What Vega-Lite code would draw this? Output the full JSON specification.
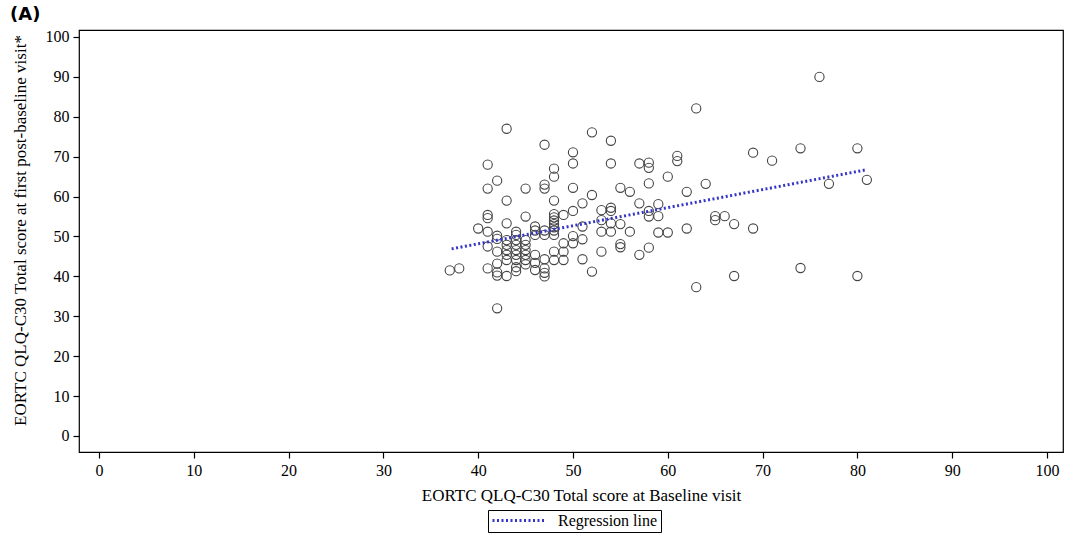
{
  "$schema": "https://vega.github.io/schema/vega-lite/v6.json",
  "width": 984,
  "height": 422,
  "autosize": {"type": "none"},
  "padding": {"left": 79, "top": 30, "right": 2, "bottom": 82},
  "background": "white",
  "title": {"text": "(A)", "anchor": "start", "frame": "group", "dx": -69, "offset": 5, "font": "DejaVu Sans", "fontSize": 18, "fontWeight": "bold", "color": "black"},
  "config": {
    "view": {"stroke": "black", "strokeWidth": 1.2},
    "axis": {"grid": false, "domain": false, "tickColor": "black", "tickSize": 6, "tickWidth": 1.2, "labelFont": "Liberation Serif", "labelFontSize": 16, "labelColor": "black", "titleFont": "Liberation Serif", "titleFontSize": 17, "titleFontWeight": "normal", "titleColor": "black"}
  },
  "datasets": {
    "points": [
      {"baseline": 37, "post": 41.5}, {"baseline": 38, "post": 42}, {"baseline": 40, "post": 52},
      {"baseline": 41, "post": 68}, {"baseline": 41, "post": 62}, {"baseline": 41, "post": 55.4}, {"baseline": 41, "post": 54.6}, {"baseline": 41, "post": 51.2}, {"baseline": 41, "post": 47.5}, {"baseline": 41, "post": 42},
      {"baseline": 42, "post": 64}, {"baseline": 42, "post": 50.2}, {"baseline": 42, "post": 49.4}, {"baseline": 42, "post": 46.2}, {"baseline": 42, "post": 43.2}, {"baseline": 42, "post": 41}, {"baseline": 42, "post": 40.2}, {"baseline": 42, "post": 32},
      {"baseline": 43, "post": 77}, {"baseline": 43, "post": 59}, {"baseline": 43, "post": 53.3}, {"baseline": 43, "post": 49.1}, {"baseline": 43, "post": 47.9}, {"baseline": 43, "post": 46.6}, {"baseline": 43, "post": 45.4}, {"baseline": 43, "post": 44.1}, {"baseline": 43, "post": 40.1},
      {"baseline": 44, "post": 51.2}, {"baseline": 44, "post": 50.4}, {"baseline": 44, "post": 49.1}, {"baseline": 44, "post": 47.9}, {"baseline": 44, "post": 46.6}, {"baseline": 44, "post": 45.4}, {"baseline": 44, "post": 44.1}, {"baseline": 44, "post": 42.3}, {"baseline": 44, "post": 41.3},
      {"baseline": 45, "post": 62}, {"baseline": 45, "post": 55}, {"baseline": 45, "post": 49.1}, {"baseline": 45, "post": 47.9}, {"baseline": 45, "post": 46.6}, {"baseline": 45, "post": 45.4}, {"baseline": 45, "post": 44.1}, {"baseline": 45, "post": 43},
      {"baseline": 46, "post": 52.5}, {"baseline": 46, "post": 51.5}, {"baseline": 46, "post": 50.4}, {"baseline": 46, "post": 45.4}, {"baseline": 46, "post": 43.4}, {"baseline": 46, "post": 41.6},
      {"baseline": 47, "post": 73}, {"baseline": 47, "post": 63}, {"baseline": 47, "post": 62}, {"baseline": 47, "post": 51.5}, {"baseline": 47, "post": 50.4}, {"baseline": 47, "post": 44.3}, {"baseline": 47, "post": 42}, {"baseline": 47, "post": 40.9}, {"baseline": 47, "post": 40},
      {"baseline": 48, "post": 67}, {"baseline": 48, "post": 65}, {"baseline": 48, "post": 59}, {"baseline": 48, "post": 55.6}, {"baseline": 48, "post": 54.8}, {"baseline": 48, "post": 54}, {"baseline": 48, "post": 53.1}, {"baseline": 48, "post": 52.3}, {"baseline": 48, "post": 51.5}, {"baseline": 48, "post": 50.4}, {"baseline": 48, "post": 46.2}, {"baseline": 48, "post": 44.1},
      {"baseline": 49, "post": 55.4}, {"baseline": 49, "post": 48.3}, {"baseline": 49, "post": 46.2}, {"baseline": 49, "post": 44.1},
      {"baseline": 50, "post": 71.1}, {"baseline": 50, "post": 68.3}, {"baseline": 50, "post": 62.2}, {"baseline": 50, "post": 56.4}, {"baseline": 50, "post": 50.1}, {"baseline": 50, "post": 48.3},
      {"baseline": 51, "post": 58.3}, {"baseline": 51, "post": 52.5}, {"baseline": 51, "post": 49.3}, {"baseline": 51, "post": 44.3},
      {"baseline": 52, "post": 76.1}, {"baseline": 52, "post": 60.4}, {"baseline": 52, "post": 41.2},
      {"baseline": 53, "post": 56.6}, {"baseline": 53, "post": 54.1}, {"baseline": 53, "post": 51.2}, {"baseline": 53, "post": 46.2},
      {"baseline": 54, "post": 74}, {"baseline": 54, "post": 68.3}, {"baseline": 54, "post": 57.2}, {"baseline": 54, "post": 56.4}, {"baseline": 54, "post": 53.3}, {"baseline": 54, "post": 51.2},
      {"baseline": 55, "post": 62.2}, {"baseline": 55, "post": 53.1}, {"baseline": 55, "post": 48.1}, {"baseline": 55, "post": 47.3},
      {"baseline": 56, "post": 61.2}, {"baseline": 56, "post": 51.2},
      {"baseline": 57, "post": 68.3}, {"baseline": 57, "post": 58.3}, {"baseline": 57, "post": 45.4},
      {"baseline": 58, "post": 68.5}, {"baseline": 58, "post": 67.2}, {"baseline": 58, "post": 63.3}, {"baseline": 58, "post": 56.4}, {"baseline": 58, "post": 55}, {"baseline": 58, "post": 47.2},
      {"baseline": 59, "post": 58.1}, {"baseline": 59, "post": 55.1}, {"baseline": 59, "post": 51},
      {"baseline": 60, "post": 65}, {"baseline": 60, "post": 51},
      {"baseline": 61, "post": 70.2}, {"baseline": 61, "post": 68.9},
      {"baseline": 62, "post": 61.2}, {"baseline": 62, "post": 52},
      {"baseline": 63, "post": 82.1}, {"baseline": 63, "post": 37.3},
      {"baseline": 64, "post": 63.2},
      {"baseline": 65, "post": 55.1}, {"baseline": 65, "post": 54.1},
      {"baseline": 66, "post": 55.1},
      {"baseline": 67, "post": 53.1}, {"baseline": 67, "post": 40.1},
      {"baseline": 69, "post": 71}, {"baseline": 69, "post": 52},
      {"baseline": 71, "post": 69},
      {"baseline": 74, "post": 72.1}, {"baseline": 74, "post": 42.1},
      {"baseline": 76, "post": 90},
      {"baseline": 77, "post": 63.2},
      {"baseline": 80, "post": 72.1}, {"baseline": 80, "post": 40.1},
      {"baseline": 81, "post": 64.2}
    ],
    "line": [
      {"baseline": 37.2, "post": 46.9, "series": "Regression line"},
      {"baseline": 80.9, "post": 66.7, "series": "Regression line"}
    ]
  },
  "layer": [
    {
      "data": {"name": "points"},
      "mark": {"type": "point", "shape": "circle", "filled": false, "stroke": "#444444", "strokeWidth": 1.1, "size": 85, "opacity": 1},
      "encoding": {
        "x": {"field": "baseline", "type": "quantitative", "scale": {"domain": [-2.11, 101.69], "nice": false, "zero": false}, "axis": {"values": [0, 10, 20, 30, 40, 50, 60, 70, 80, 90, 100], "title": "EORTC QLQ-C30 Total score at Baseline visit", "titlePadding": 9, "titleX": 502, "labelPadding": 4}},
        "y": {"field": "post", "type": "quantitative", "scale": {"domain": [-4.01, 101.75], "nice": false, "zero": false}, "axis": {"values": [0, 10, 20, 30, 40, 50, 60, 70, 80, 90, 100], "title": "EORTC QLQ-C30 Total score at first post-baseline visit*", "titlePadding": 16, "titleY": 200, "labelPadding": 4}}
      }
    },
    {
      "data": {"name": "line"},
      "mark": {"type": "line", "strokeWidth": 3, "strokeDash": [2, 2.5]},
      "encoding": {
        "x": {"field": "baseline", "type": "quantitative"},
        "y": {"field": "post", "type": "quantitative"},
        "color": {"field": "series", "type": "nominal", "scale": {"domain": ["Regression line"], "range": ["#3434c8"]}, "legend": {"title": null, "orient": "none", "legendX": 409, "legendY": 480, "strokeColor": "black", "padding": 3, "clipHeight": 15, "symbolType": "stroke", "symbolDash": [2, 2.5], "symbolStrokeWidth": 3, "symbolSize": 2916, "labelFont": "Liberation Serif", "labelFontSize": 16, "labelColor": "black", "labelOffset": 10}}
      }
    }
  ]
}
